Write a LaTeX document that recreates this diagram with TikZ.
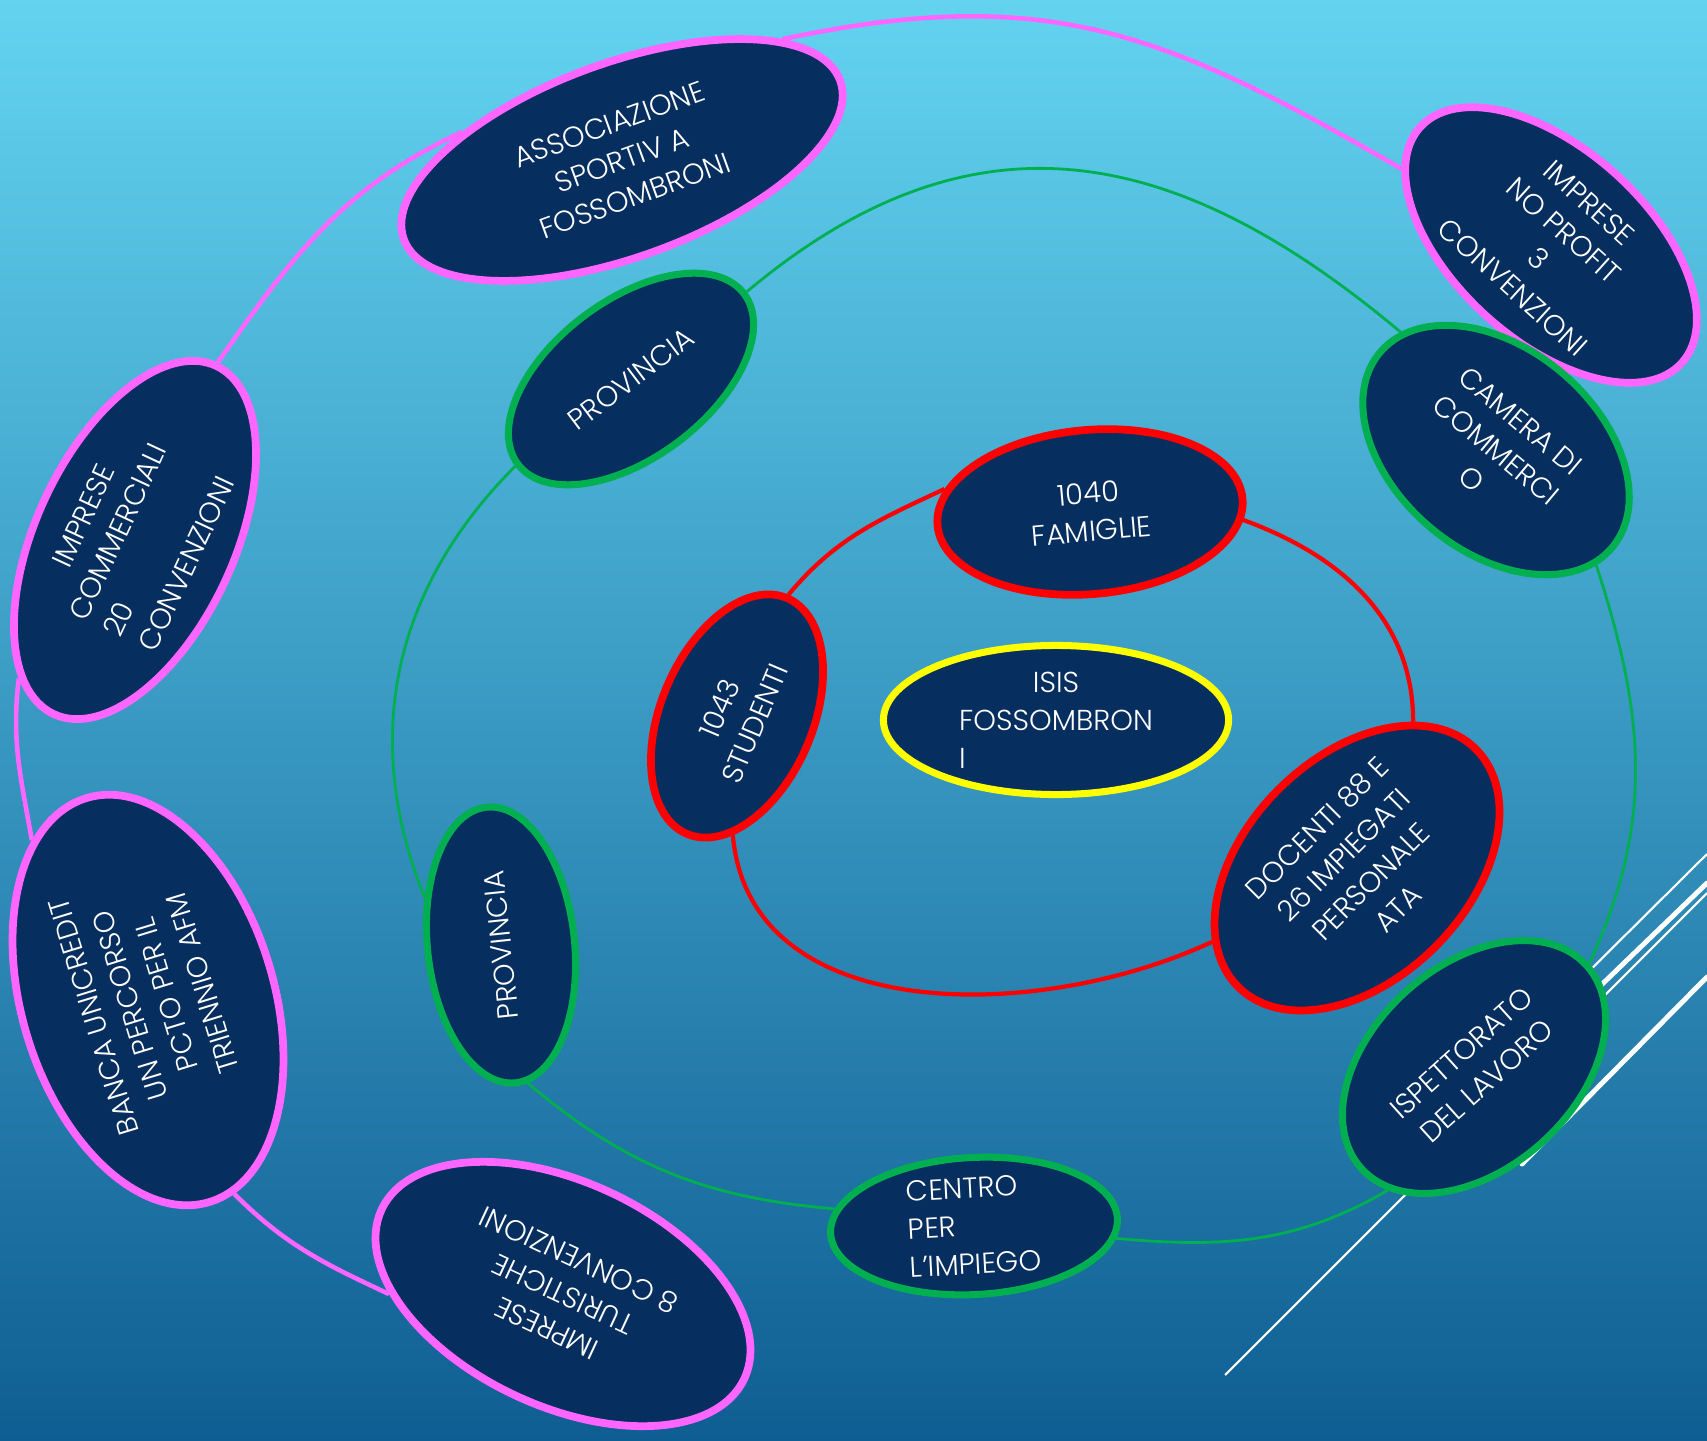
\documentclass[tikz,border=0pt]{standalone}
\usepackage{fontspec}
\setmainfont{Poppins}[UprightFont=* Light]
\usepackage{tikz}
\usetikzlibrary{shapes.geometric}
\usetikzlibrary{backgrounds}
\pgfdeclarelayer{backdrop}
\pgfsetlayers{backdrop,background,main}

\definecolor{skytop}{HTML}{63D3F0}
\definecolor{skybot}{HTML}{0F5E93}
\definecolor{navy}{HTML}{062E5F}
\definecolor{pinkring}{HTML}{FF66FF}
\definecolor{greenring}{HTML}{00B050}
\definecolor{redring}{HTML}{FF0000}
\definecolor{yellowring}{HTML}{FFFF00}

\tikzset{
  bubble/.style={ellipse, fill=navy, text=white, align=center, inner sep=0pt,
    line width=2.2pt, font=\fontsize{8.2}{10.8}\selectfont},
  pinkbub/.style={bubble, draw=pinkring},
  greenbub/.style={bubble, draw=greenring, line width=2pt},
  redbub/.style={bubble, draw=redring},
  yellowbub/.style={bubble, draw=yellowring, line width=2pt},
  pinkline/.style={draw=pinkring, line width=1.3pt},
  greenline/.style={draw=greenring, line width=0.8pt},
  redline/.style={draw=redring, line width=1.2pt},
  slice/.style={white, line width=0.6pt},
  slicethick/.style={white, line width=1.4pt, line cap=round},
}

\begin{document}
\begin{tikzpicture}[x=0.01cm,y=0.01cm]
\begin{pgfonlayer}{backdrop}
\shade[top color=skytop, bottom color=skybot] (0,0) rectangle (1707,-1440);
\end{pgfonlayer}
\useasboundingbox (0,0) rectangle (1707,-1440);

% outer ring
\node[pinkbub, rotate=20, minimum width=4.64cm, minimum height=1.94cm] (asso) at (622,-160) {ASSOCIAZIONE\\SPORTIV A\\FOSSOMBRONI};
\node[pinkbub, rotate=-42, minimum width=3.52cm, minimum height=1.92cm] (nopro) at (1551,-245) {IMPRESE\\NO PROFIT\\3\\CONVENZIONI};
\node[pinkbub, rotate=65, minimum width=3.84cm, minimum height=1.98cm] (comm) at (135,-540) {IMPRESE\\COMMERCIALI\\\rlap{20}\phantom{COMMERCIALI}\\CONVENZIONI};
\node[pinkbub, rotate=107, minimum width=4.22cm, minimum height=2.52cm] (banca) at (148,-1000) {BANCA UNICREDIT\\UN PERCORSO\\PCTO PER IL\\TRIENNIO AFM};
\node[pinkbub, rotate=155, minimum width=4.00cm, minimum height=2.24cm] (tur) at (563,-1294) {IMPRESE\\TURISTICHE\\8 CONVENZIONI};

% middle ring
\node[greenbub, rotate=37, minimum width=2.83cm, minimum height=1.57cm] (provtop) at (631,-379) {PROVINCIA};
\node[greenbub, rotate=-40, minimum width=3.03cm, minimum height=2.03cm] (camera) at (1496,-450) {CAMERA DI\\COMMERCI\\O};
\node[greenbub, rotate=42, minimum width=3.03cm, minimum height=2.03cm] (isp) at (1474,-1067) {ISPETTORATO\\DEL LAVORO};
\node[greenbub, rotate=3, minimum width=2.87cm, minimum height=1.37cm, align=left] (centro) at (974,-1226) {CENTRO\\PER\\L’IMPIEGO};
\node[greenbub, rotate=96, minimum width=2.77cm, minimum height=1.47cm] (provbot) at (501,-945) {PROVINCIA};

% inner ring
\node[redbub, rotate=5, minimum width=3.06cm, minimum height=1.64cm] (fam) at (1090,-512) {1040\\FAMIGLIE};
\node[redbub, rotate=67, minimum width=2.56cm, minimum height=1.52cm] (stud) at (737,-716) {1043\\STUDENTI};
\node[redbub, rotate=45, minimum width=3.36cm, minimum height=2.22cm] (doc) at (1357,-868) {DOCENTI 88 E\\26 IMPIEGATI\\PERSONALE\\ATA};

\node[yellowbub, minimum width=3.45cm, minimum height=1.49cm] (isis) at (1056,-720) {ISIS\\FOSSOMBRON\\\rlap{I}\phantom{FOSSOMBRON}};

\begin{scope}[on background layer]
\draw[slice] (1560,-1000) -- (1707,-854);
\draw[slicethick] (1565,-1020) -- (1707,-883);
\draw[slice] (1225,-1375) -- (1707,-893);
\draw[slicethick] (1522,-1164) -- (1707,-977);

\draw[pinkline] (comm.east) to[out=55,in=205] (asso.150);
\draw[pinkline] (asso.17) to[out=12,in=150,looseness=1.1] (nopro.195);
\draw[pinkline] (comm.165) to[out=-97,in=100] (banca.19);
\draw[pinkline] (banca.187) to[out=-45,in=155] (tur.25);

\draw[greenline] (provtop.east) to[out=40,in=140,looseness=1.15] (camera.169);
\draw[greenline] (camera.351) to[out=-72,in=65] (isp.east);
\draw[greenline] (isp.193) to[out=210,in=-5] (centro.352);
\draw[greenline] (centro.170) to[out=175,in=-40] (provbot.185);
\draw[greenline] (provbot.52) to[out=112,in=225] (provtop.west);

\draw[redline] (stud.east) to[out=50,in=205] (fam.166);
\draw[redline] (fam.352) to[out=-20,in=90] (doc.24);
\draw[redline] (doc.162) to[out=205,in=-85] (stud.201);
\end{scope}
\end{tikzpicture}
\end{document}
